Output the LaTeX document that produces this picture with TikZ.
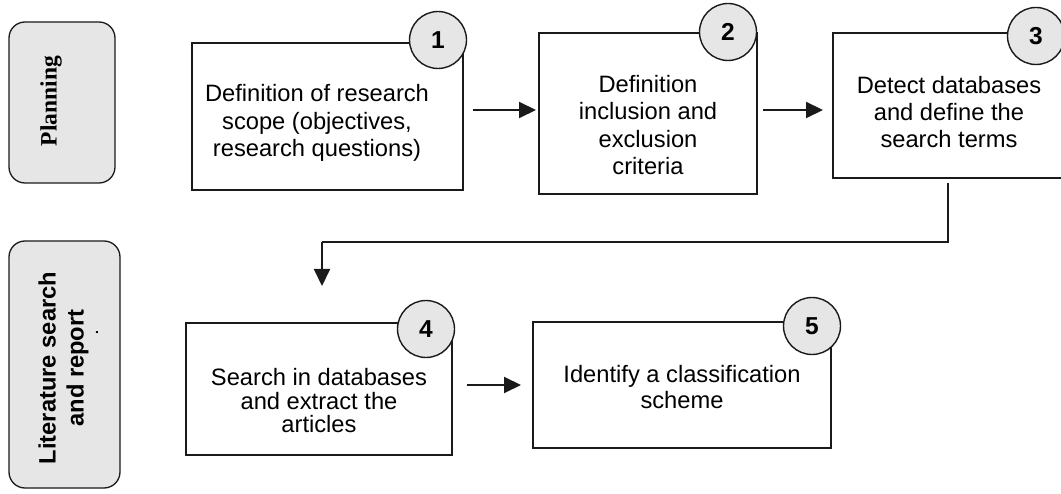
\documentclass[tikz,border=0pt]{standalone}
\usepackage{fontspec}
\setmainfont{Liberation Sans}
\newfontfamily\serifbold{Liberation Serif}
\usetikzlibrary{arrows.meta}
\definecolor{fillgray}{HTML}{E6E6E6}
\definecolor{ink}{HTML}{1A1A1A}
\tikzset{
  stepbox/.style={draw=ink, line width=1.5pt, fill=white, inner sep=0pt},
  phase/.style={draw=ink, line width=1.3pt, fill=fillgray, rounded corners=16pt, inner sep=0pt},
  numcirc/.style={circle, draw=ink, line width=1.4pt, fill=fillgray, minimum size=57pt, inner sep=0pt, font=\fontsize{24.5}{27}\selectfont\bfseries},
  txt/.style={align=center, inner sep=0pt, font=\fontsize{23.7}{27.3}\selectfont},
  flow/.style={draw=ink, line width=2pt, -{Triangle[length=17pt, width=16pt]}},
  link/.style={draw=ink, line width=1.6pt},
}
\begin{document}
\begin{tikzpicture}[x=1pt, y=-1pt]
\useasboundingbox (0,0) rectangle (1061,494);
% phase boxes
\node[phase, minimum width=106pt, minimum height=161pt] (p1) at (62,102.5) {};
\node[rotate=90, inner sep=0pt, font=\serifbold\fontsize{23.5}{26}\selectfont\bfseries] (p1t) at (51,101) {Planning};
\node[phase, minimum width=111pt, minimum height=247pt] (p2) at (64.5,364.5) {};
\node[rotate=90, align=center, inner sep=0pt, font=\fontsize{23.7}{28}\selectfont\bfseries] (p2t) at (63.5,368) {Literature search\\and report};
\node[inner sep=0pt, font=\fontsize{14}{14}\selectfont\bfseries, rotate=90] (p2d) at (97,333) {.};
% step boxes
\node[stepbox, minimum width=271pt, minimum height=147pt] (b1) at (327.5,116.5) {};
\node[txt] (t1) at (317,123) {Definition of research\\scope (objectives,\\research questions)};
\node[stepbox, minimum width=218pt, minimum height=161pt] (b2) at (648,113.5) {};
\node[txt] (t2) at (648,125) {Definition\\inclusion and\\exclusion\\criteria};
\node[stepbox, minimum width=231pt, minimum height=145pt] (b3) at (948.5,105.5) {};
\node[txt] (t3) at (949,112) {Detect databases\\and define the\\search terms};
\node[stepbox, minimum width=266pt, minimum height=132pt] (b4) at (319,389) {};
\node[txt, font=\fontsize{23.7}{23.5}\selectfont] (t4) at (319,401) {Search in databases\\and extract the\\articles};
\node[stepbox, minimum width=298pt, minimum height=126pt] (b5) at (682,385) {};
\node[txt, font=\fontsize{23.7}{25.5}\selectfont] (t5) at (682,387) {Identify a classification\\scheme};
% number circles
\node[numcirc] (c1) at (438,40) {1};
\node[numcirc] (c2) at (728,32) {2};
\node[numcirc] (c3) at (1036,36) {3};
\node[numcirc] (c4) at (426,329) {4};
\node[numcirc] (c5) at (812,326) {5};
% connectors
\coordinate (a1s) at (473,110);
\coordinate (a1e) at (536,110);
\draw[flow] (a1s) -- (a1e);
\coordinate (a2s) at (763,110);
\coordinate (a2e) at (823,110);
\draw[flow] (a2s) -- (a2e);
\coordinate (a4s) at (467,385);
\coordinate (a4e) at (521,385);
\draw[flow] (a4s) -- (a4e);
\coordinate (k1) at (948,183);
\coordinate (k2) at (948,242);
\coordinate (k3) at (322,242);
\coordinate (k4) at (322,286);
\draw[link] (k1) -- (k2) -- (k3);
\draw[flow] (k3) -- (k4);
\end{tikzpicture}
\end{document}
